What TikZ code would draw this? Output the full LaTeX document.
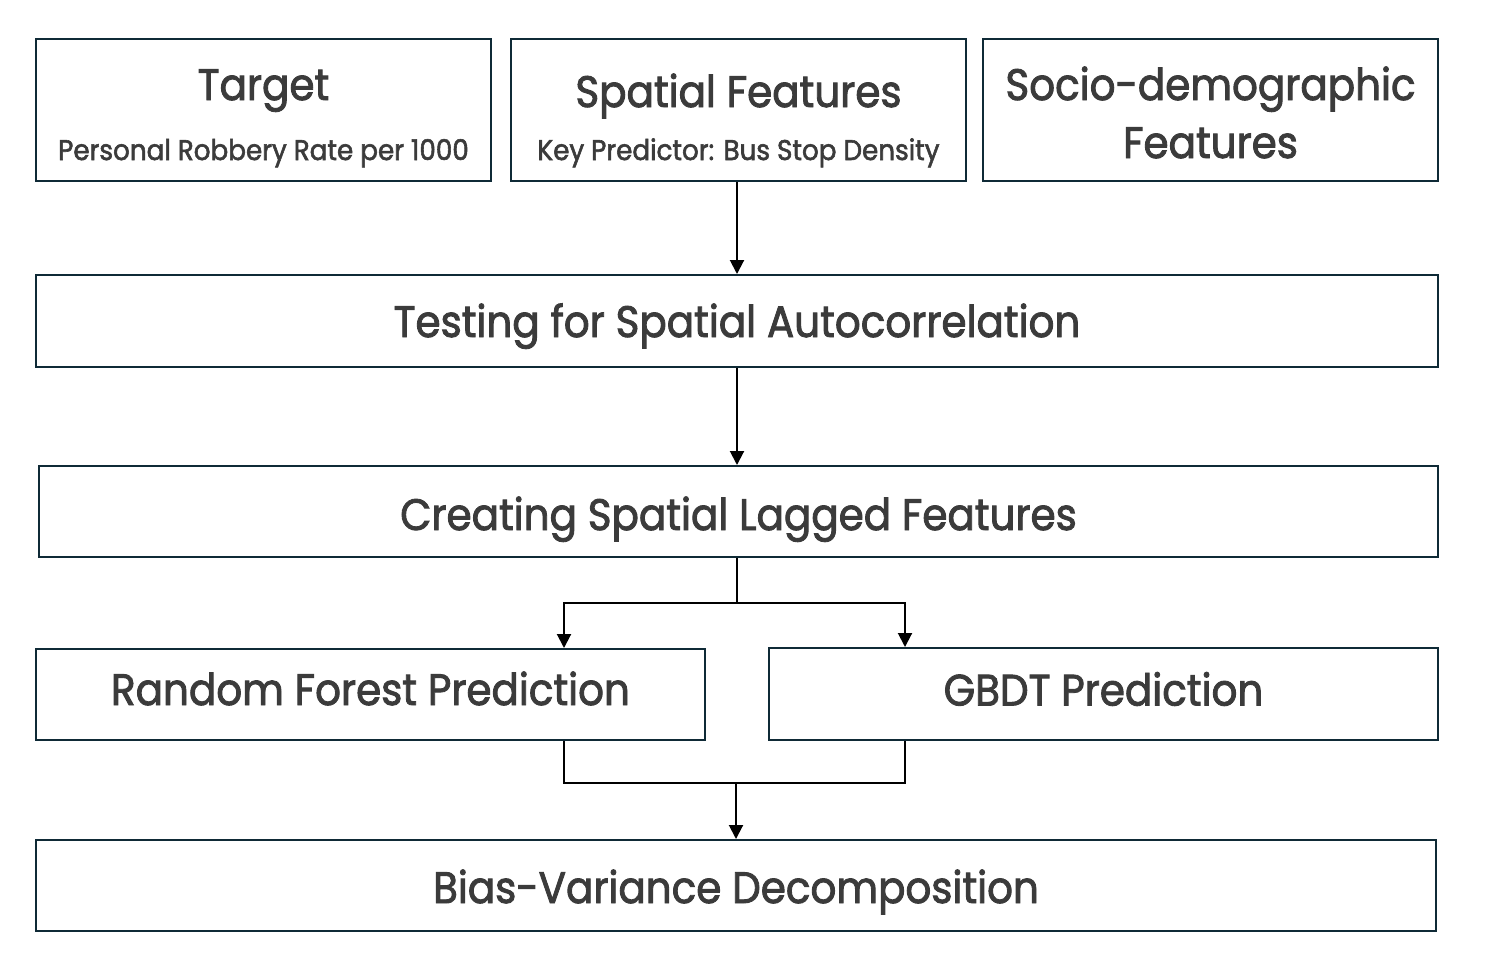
\documentclass[tikz,border=0pt]{standalone}
\usepackage{fontspec}
\setmainfont{Poppins}[FakeStretch=0.92, FakeBold=2]
\usetikzlibrary{arrows.meta}
\definecolor{framec}{HTML}{0F2A36}
\definecolor{inkc}{HTML}{3B3B3B}
\newcommand{\titlef}{\fontsize{44}{54}\selectfont}
\newcommand{\subf}{\fontsize{28.5}{34}\selectfont}
% one box of the flow: [options] name, centre x, centre y, width, height, text
\newcommand{\stagebox}[7][]{\node[stage, minimum width=#5pt, minimum height=#6pt, #1] (#2) at (#3,#4) {#7};}

\begin{document}
\begin{tikzpicture}[x=1pt, y=-1pt,
    stage/.style={draw=framec, line width=2pt, text=inkc, inner sep=0pt, font=\titlef, text depth=0pt},
    twoline/.style={text height=0pt, text depth=#1},
    flow/.style={line width=2pt, -{Triangle[width=14pt,length=14pt]}},
    bus/.style={line width=2pt}]
        \useasboundingbox (0,0) rectangle (1488,970);
        % row 1
        \stagebox[twoline=20pt]{target}{263.5}{110}{455}{142}{\begin{tabular}[t]{@{}c@{}}Target\\[6pt]{\subf Personal Robbery Rate per 1000}\end{tabular}}
        \stagebox[twoline=6pt]{spatial}{738.5}{110}{455}{142}{\begin{tabular}[t]{@{}c@{}}Spatial Features\\[-1pt]{\subf Key Predictor: Bus Stop Density}\end{tabular}}
        \stagebox[twoline=20pt]{socio}{1210.5}{110}{455}{142}{\begin{tabular}[t]{@{}c@{}}Socio-demographic\\[4pt]Features\end{tabular}}
        % row 2
        \stagebox[text height=32pt]{testing}{737}{321}{1402}{92}{Testing for Spatial Autocorrelation}
        % row 3
        \stagebox[text height=37pt]{lagged}{738.5}{511.5}{1399}{91}{Creating Spatial Lagged Features}
        % row 4
        \stagebox[text height=21pt]{rf}{370.5}{694.5}{669}{91}{Random Forest Prediction}
        \stagebox[text height=23pt]{gbdt}{1103.5}{694}{669}{92}{GBDT Prediction}
        % row 5
        \stagebox[text height=35pt]{bias}{736}{885.5}{1400}{91}{Bias-Variance Decomposition}

        \coordinate (split) at (737,603);
        \coordinate (merge) at (736,783);
        \coordinate (rfx) at (564,720);
        \coordinate (gbx) at (905,720);

        \draw[flow] (737,0 |- spatial.south) -- (737,0 |- testing.north);
        \draw[flow] (737,0 |- testing.south) -- (737,0 |- lagged.north);
        \draw[bus] (split |- lagged.south) -- (split);
        \draw[flow] (split) -| (rfx |- rf.north);
        \draw[flow] (split) -| (gbx |- gbdt.north);
        \draw[bus] (rfx |- rf.south) |- (merge) -| (gbx |- gbdt.south);
        \draw[flow] (merge) -- (merge |- bias.north);
\end{tikzpicture}
\end{document}
